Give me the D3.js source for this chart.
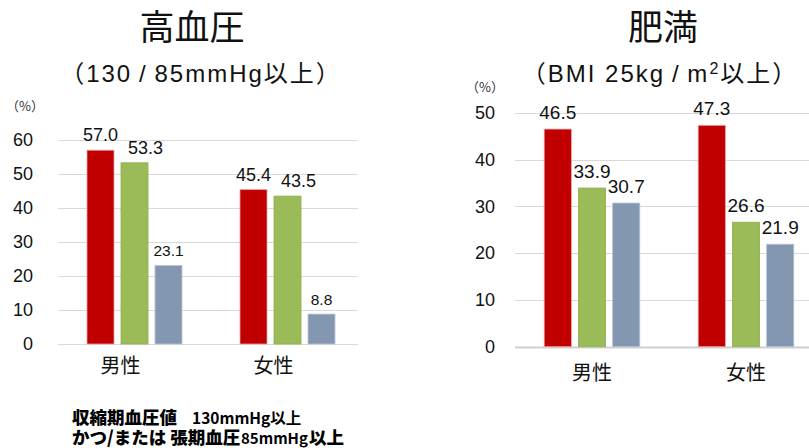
<!DOCTYPE html>
<html>
<head>
<meta charset="utf-8">
<script src="https://cdn.jsdelivr.net/npm/d3@7"></script>
<style>
  html, body { margin: 0; padding: 0; background: #fff; }
  svg { display: block; }
  .lat { font-family: "Liberation Sans", Arial, "Noto Sans CJK JP", sans-serif; }
  .cjk { font-family: "Noto Sans CJK JP", "Liberation Sans", sans-serif; }
</style>
</head>
<body>
<svg id="chart" width="809" height="448"></svg>
<script>
// Categories and series
const categories = ["男性", "女性"];
const seriesNames = ["s1", "s2", "s3"];
const seriesColors = ["#C00000", "#9BBB59", "#8497B0"];
const seriesStrokes = ["#E8A0A0", "#8CAF4C", "#B9C6D6"];

// 高血圧 (%) by category: [s1, s2, s3]
const hypertensionMale = [57.0, 53.3, 23.1];
const hypertensionFemale = [45.4, 43.5, 8.8];
const hypertensionTicks = [0, 10, 20, 30, 40, 50, 60];

// 肥満 (%) by category: [s1, s2, s3]
const obesityMale = [46.5, 33.9, 30.7];
const obesityFemale = [47.3, 26.6, 21.9];
const obesityTicks = [0, 10, 20, 30, 40, 50];

const svg = d3.select("#chart");

function drawPanel(opt) {
  const g = svg.append("g");
  const rows = [opt.male, opt.female];

  const y = d3.scaleLinear().domain(opt.yDomain).range(opt.yRange);
  const x0 = d3.scaleBand().domain(categories).range(opt.xRange).padding(0);
  const x1 = d3.scaleBand().domain(seriesNames).range([0, x0.bandwidth()])
    .paddingInner(0.206).paddingOuter(opt.outerPad);

  // gridlines
  g.append("g").selectAll("line").data(opt.ticks).join("line")
    .attr("x1", opt.gridX[0]).attr("x2", opt.gridX[1])
    .attr("y1", d => Math.round(y(d)) + 0.5).attr("y2", d => Math.round(y(d)) + 0.5)
    .attr("stroke", d => d === 0 ? opt.zeroColor : "#D9D9D9")
    .attr("stroke-width", d => d === 0 ? opt.zeroWidth : 1);

  // y axis labels
  const axis = d3.axisLeft(y).tickValues(opt.ticks).tickSize(0).tickPadding(opt.tickPad)
    .tickFormat(d3.format("d"));
  const ax = g.append("g").attr("transform", `translate(${opt.gridX[0]},0)`).call(axis);
  ax.select(".domain").remove();
  ax.selectAll("text").attr("class", "lat").style("font-size", "18px").attr("fill", "#111");

  // bars
  const groups = g.append("g").selectAll("g").data(rows).join("g")
    .attr("transform", (d, i) => `translate(${x0(categories[i])},0)`);
  groups.selectAll("rect").data(d => d.map((v, j) => ({ v, j }))).join("rect")
    .attr("x", d => x1(seriesNames[d.j]))
    .attr("width", x1.bandwidth())
    .attr("y", d => y(d.v))
    .attr("height", d => y(0) - y(d.v))
    .attr("fill", d => seriesColors[d.j])
    .attr("stroke", d => seriesStrokes[d.j])
    .attr("stroke-width", 0.8);

  // value labels
  groups.selectAll("text").data(d => d.map((v, j) => ({ v, j }))).join("text")
    .attr("class", "lat")
    .attr("x", d => x1(seriesNames[d.j]) + x1.bandwidth() / 2 + opt.labelDx[d.j])
    .attr("y", d => y(d.v) - opt.labelGap)
    .attr("text-anchor", "middle")
    .style("font-size", d => opt.labelSize[d.j] + "px")
    .attr("fill", "#111")
    .text(d => d.v.toFixed(1));

  // category labels
  g.append("g").selectAll("text").data(categories).join("text")
    .attr("class", "cjk")
    .attr("x", d => x0(d) + x0.bandwidth() / 2 + opt.catDx)
    .attr("y", opt.catY)
    .attr("text-anchor", "middle")
    .style("font-size", "20px")
    .attr("fill", "#111")
    .text(d => d);

  // unit label
  g.append("text").attr("class", "cjk")
    .attr("x", opt.unitX).attr("y", opt.unitY)
    .attr("text-anchor", "middle")
    .style("font-size", "13px").attr("fill", "#333")
    .text("（%）");

  // titles
  g.append("text").attr("class", "cjk")
    .attr("x", opt.titleX).attr("y", 40)
    .attr("text-anchor", "middle")
    .style("font-size", "35px").attr("fill", "#111")
    .text(opt.title);
  const sub = g.append("text").attr("class", "lat")
    .attr("x", opt.subX).attr("y", 82)
    .attr("text-anchor", "middle")
    .style("font-size", "24px").style("letter-spacing", "2px").attr("fill", "#111");
  opt.subtitle.forEach(part => {
    const t = sub.append("tspan").text(part.t);
    if (part.sup) t.style("font-size", "16px").attr("baseline-shift", "super");
  });
}

drawPanel({
  male: hypertensionMale, female: hypertensionFemale,
  ticks: hypertensionTicks,
  yDomain: [0, 60], yRange: [344, 140],
  xRange: [58, 364], outerPad: 0.853,
  gridX: [58, 358], tickPad: 25,
  zeroColor: "#D9D9D9", zeroWidth: 1,
  labelDx: [0, 11, 0], labelGap: 9, labelSize: [18, 18, 15.5],
  catDx: -14, catY: 373,
  unitX: 25, unitY: 111,
  title: "高血圧", titleX: 192, subX: 201,
  subtitle: [{ t: "（130\u2009/\u200985mmHg以上）" }]
});

drawPanel({
  male: obesityMale, female: obesityFemale,
  ticks: obesityTicks,
  yDomain: [0, 50], yRange: [346.7, 112.7],
  xRange: [515, 823], outerPad: 0.853,
  gridX: [515, 823], tickPad: 20,
  zeroColor: "#D0D0D0", zeroWidth: 2,
  labelDx: [0, 0, 0], labelGap: 10.5, labelSize: [19, 19, 19],
  catDx: 0, catY: 380,
  unitX: 485, unitY: 92,
  title: "肥満", titleX: 663, subX: 660,
  subtitle: [{ t: "（BMI 25kg\u2009/\u2009m" }, { t: "2", sup: true }, { t: "以上）" }]
});

// footnote
function note(x, y, size, weight, text) {
  svg.append("text").attr("class", "cjk").attr("x", x).attr("y", y)
    .style("font-size", size + "px").style("font-weight", weight)
    .attr("fill", "#000").text(text);
}
note(72, 424, 17.5, 900, "収縮期血圧値");
note(192, 424, 15.5, 700, "130mmHg以上");
note(72, 444, 17.5, 900, "かつ/または 張期血圧");
note(241, 444, 15, 700, "85mmHg");
note(309, 444, 17.5, 900, "以上");
</script>
</body>
</html>
